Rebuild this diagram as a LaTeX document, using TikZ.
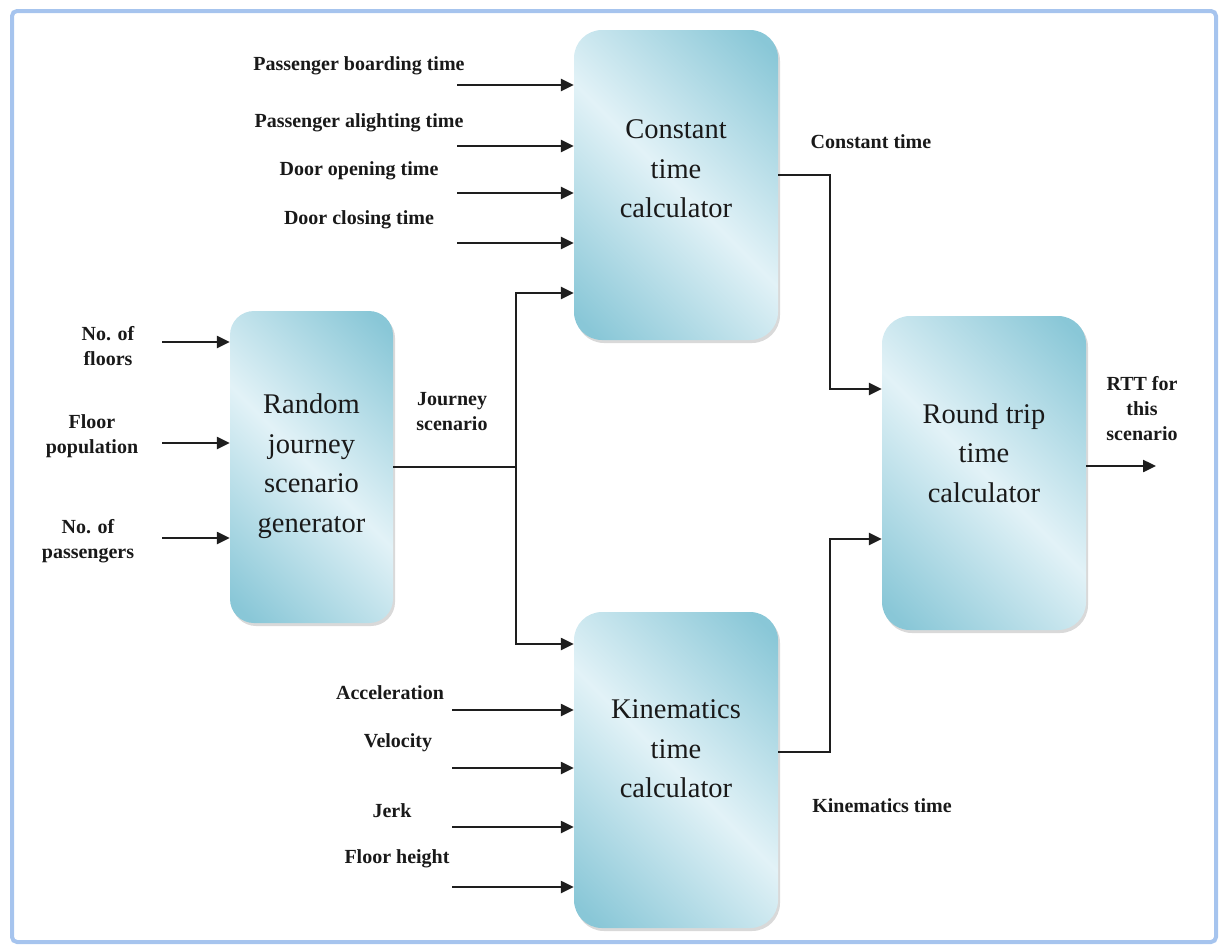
\documentclass[tikz,border=0pt]{standalone}
\usepackage{fontspec}
\setmainfont{Liberation Serif}
\usetikzlibrary{arrows.meta,shadows}
\definecolor{bdark}{RGB}{137,199,215}
\definecolor{blight}{RGB}{226,242,247}
\definecolor{framecol}{RGB}{166,196,238}
\definecolor{wirecol}{RGB}{30,30,30}
\pgfdeclarehorizontalshading{boxshade}{100bp}{color(0bp)=(bdark); color(18bp)=(bdark); color(50bp)=(blight); color(82bp)=(bdark); color(100bp)=(bdark)}
\begin{document}
\begin{tikzpicture}[x=1pt,y=-1pt,
  procbox/.style={rounded corners=28pt, shading=boxshade, shading angle=45,
    drop shadow={shadow xshift=2pt, shadow yshift=-3pt, opacity=0.3},
    inner sep=0pt, minimum width=204pt},
  boxtext/.style={font=\fontsize{28.5}{39.5}\selectfont, align=center, text=black!90},
  lbl/.style={font=\fontsize{20}{25}\selectfont\bfseries, align=center, text=black!90},
  wire/.style={draw=wirecol, line width=2.4pt},
  arr/.style={wire, -{Triangle[length=13pt,width=12pt]}},
]
\useasboundingbox (0,0) rectangle (1220,945);
\draw[framecol, line width=4pt, rounded corners=5pt] (12,11) rectangle (1216,942);

% boxes
\node[procbox, minimum width=163pt, minimum height=312pt, rounded corners=24pt] (rjs) at (311.5,467) {};
\node[boxtext] (rjst) at (311.5,466) {Random\\journey\\scenario\\generator};

\node[procbox, minimum height=310pt] (ctc) at (676,185) {};
\node[boxtext] (ctct) at (676,169) {Constant\\time\\calculator};

\node[procbox, minimum height=316pt] (ktc) at (676,770) {};
\node[boxtext] (ktct) at (676,749) {Kinematics\\time\\calculator};

\node[procbox, minimum height=314pt] (rtt) at (984,473) {};
\node[boxtext] (rttt) at (984,453) {Round trip\\time\\calculator};

% inputs of constant time calculator
\coordinate (c1) at (457,85);
\coordinate (c2) at (457,146);
\coordinate (c3) at (457,193);
\coordinate (c4) at (457,243);
\foreach \c in {c1,c2,c3,c4} \draw[arr] (\c) -- (\c -| ctc.west);
\node[lbl] (lc1) at (359,66) {Passenger boarding time};
\node[lbl] (lc2) at (359,123) {Passenger alighting time};
\node[lbl] (lc3) at (359,171) {Door opening time};
\node[lbl] (lc4) at (359,220) {Door closing time};

% inputs of random journey scenario generator
\coordinate (r1) at (162,342);
\coordinate (r2) at (162,443);
\coordinate (r3) at (162,538);
\foreach \c in {r1,r2,r3} \draw[arr] (\c) -- (\c -| rjs.west);
\node[lbl] (lr1) at (108,346) {No. of\\floors};
\node[lbl] (lr2) at (92,436) {Floor\\population};
\node[lbl] (lr3) at (88,541) {No. of\\passengers};

% journey scenario
\coordinate (jn) at (516,467);
\coordinate (jt) at (516,293);
\coordinate (jb) at (516,644);
\draw[wire] (rjs.east) -- (jn);
\draw[arr] (jn) -- (jt) -- (jt -| ctc.west);
\draw[arr] (jn) -- (jb) -- (jb -| ktc.west);
\node[lbl] (lj) at (452,412) {Journey\\scenario};

% inputs of kinematics time calculator
\coordinate (k1) at (452,710);
\coordinate (k2) at (452,768);
\coordinate (k3) at (452,827);
\coordinate (k4) at (452,887);
\foreach \c in {k1,k2,k3,k4} \draw[arr] (\c) -- (\c -| ktc.west);
\node[lbl] (lk1) at (390,693) {Acceleration};
\node[lbl] (lk2) at (398,743) {Velocity};
\node[lbl] (lk3) at (392,811) {Jerk};
\node[lbl] (lk4) at (397,859) {Floor height};

% outputs to round trip time calculator
\coordinate (ct) at (830,175);
\coordinate (cb) at (830,389);
\coordinate (kt) at (830,752);
\coordinate (kb) at (830,539);
\draw[arr] (ct -| ctc.east) -- (ct) -- (cb) -- (cb -| rtt.west);
\draw[arr] (kt -| ktc.east) -- (kt) -- (kb) -- (kb -| rtt.west);
\node[lbl] (lct) at (871,142) {Constant time};
\node[lbl] (lkt) at (882,806) {Kinematics time};

% final output
\coordinate (out) at (1156,466);
\draw[arr] (out -| rtt.east) -- (out);
\node[lbl] (lout) at (1142,409) {RTT for\\this\\scenario};
\end{tikzpicture}
\end{document}
